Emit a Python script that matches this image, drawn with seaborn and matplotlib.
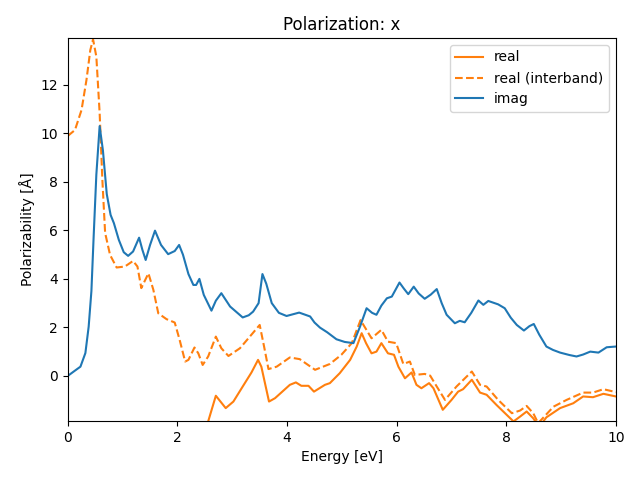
import matplotlib
matplotlib.use('Agg')
import matplotlib.pyplot as plt
import seaborn as sns

# values
imag_x = [0, 0.12, 0.23, 0.32, 0.38, 0.43, 0.47, 0.52, 0.58, 0.64, 0.71, 0.78, 0.84, 0.93, 1.02,
          1.10, 1.19, 1.30, 1.36, 1.42, 1.50, 1.59, 1.70, 1.83, 1.95, 2.03, 2.10, 2.20, 2.29, 2.34,
          2.40, 2.48, 2.62, 2.70, 2.80, 2.96, 3.19, 3.30, 3.38, 3.48, 3.55, 3.62, 3.72, 3.85, 3.99,
          4.22, 4.42, 4.50, 4.60, 4.73, 4.90, 5.05, 5.21, 5.33, 5.45, 5.55, 5.63, 5.72, 5.82, 5.91,
          6.05, 6.13, 6.21, 6.31, 6.40, 6.51, 6.62, 6.73, 6.82, 6.91, 7.06, 7.15, 7.24, 7.36, 7.49,
          7.58, 7.67, 7.85, 7.97, 8.08, 8.19, 8.32, 8.42, 8.50, 8.60, 8.73, 8.85, 8.98, 9.15, 9.28,
          9.40, 9.53, 9.68, 9.83, 10.0]
imag_y = [0.0, 0.2, 0.38, 0.94, 2.03, 3.5, 5.7, 8.3, 10.3, 9.3, 7.5, 6.64, 6.3, 5.61, 5.1,
          4.95, 5.13, 5.70, 5.2, 4.78, 5.4, 5.99, 5.4, 5.02, 5.15, 5.40, 5.0, 4.2, 3.75, 3.75,
          4.0, 3.34, 2.69, 3.1, 3.41, 2.86, 2.41, 2.5, 2.65, 3.0, 4.2, 3.8, 3.0, 2.6, 2.47,
          2.61, 2.45, 2.2, 1.99, 1.80, 1.51, 1.4, 1.35, 2.03, 2.79, 2.6, 2.52, 2.9, 3.20, 3.27,
          3.85, 3.6, 3.37, 3.68, 3.4, 3.18, 3.35, 3.58, 3.0, 2.52, 2.17, 2.27, 2.21, 2.6, 3.11,
          2.93, 3.09, 2.95, 2.79, 2.4, 2.10, 1.87, 2.05, 2.14, 1.7, 1.21, 1.07, 0.96, 0.86, 0.80,
          0.88, 1.0, 0.96, 1.18, 1.21]

inter_x = [0, 0.13, 0.25, 0.34, 0.41, 0.46, 0.52, 0.58, 0.63, 0.68, 0.77, 0.89, 1.04, 1.19, 1.27,
           1.34, 1.47, 1.56, 1.65, 1.80, 1.95, 2.04, 2.14, 2.20, 2.31, 2.38, 2.46, 2.56, 2.70, 2.80,
           2.93, 3.14, 3.32, 3.50, 3.58, 3.66, 3.81, 4.05, 4.23, 4.51, 4.78, 4.99, 5.18, 5.34, 5.54,
           5.72, 5.84, 5.99, 6.12, 6.24, 6.33, 6.51, 6.61, 6.73, 6.88, 7.09, 7.37, 7.52, 7.64, 7.85,
           8.10, 8.25, 8.37, 8.49, 8.58, 8.86, 9.10, 9.40, 9.58, 9.77, 10.0]
inter_y = [9.90, 10.14, 10.97, 12.21, 13.44, 13.88, 13.17, 10.85, 8.08, 5.9, 4.99, 4.47, 4.51, 4.74, 4.51,
           3.62, 4.23, 3.55, 2.58, 2.34, 2.20, 1.48, 0.59, 0.66, 1.17, 0.93, 0.45, 0.80, 1.62, 1.14,
           0.82, 1.14, 1.62, 2.10, 1.21, 0.28, 0.38, 0.76, 0.69, 0.25, 0.49, 0.87, 1.35, 2.3, 1.55,
           1.90, 1.41, 1.35, 0.49, 0.59, 0.04, 0.08, 0.01, -0.44, -0.99, -0.44, 0.18, -0.37, -0.44, -0.99,
           -1.54, -1.43, -1.24, -1.54, -1.95, -1.27, -0.99, -0.69, -0.69, -0.55, -0.67]

real_x = [2.3, 2.45, 2.56, 2.70, 2.88, 3.02, 3.19, 3.35, 3.47, 3.53, 3.67, 3.78, 4.05, 4.16, 4.26,
          4.39, 4.49, 4.69, 4.78, 4.96, 5.15, 5.27, 5.36, 5.44, 5.54, 5.63, 5.72, 5.84, 5.95, 6.03,
          6.15, 6.27, 6.36, 6.45, 6.59, 6.67, 6.84, 7.00, 7.12, 7.21, 7.37, 7.52, 7.64, 7.82, 8.13,
          8.25, 8.37, 8.49, 8.60, 8.73, 8.98, 9.22, 9.40, 9.58, 9.77, 10.0]
real_y = [-3.6, -2.6, -1.88, -0.82, -1.33, -1.06, -0.44, 0.14, 0.66, 0.38, -1.06, -0.92, -0.37, -0.27, -0.41,
          -0.41, -0.65, -0.37, -0.30, 0.11, 0.66, 1.21, 1.76, 1.35, 0.93, 1.0, 1.35, 0.93, 0.87, 0.38,
          -0.10, 0.14, -0.37, -0.51, -0.30, -0.51, -1.40, -0.99, -0.65, -0.55, -0.16, -0.69, -0.78, -1.20, -1.88,
          -1.68, -1.47, -1.75, -2.1, -1.71, -1.33, -1.13, -0.85, -0.88, -0.74, -0.85]

fig, ax = plt.subplots(figsize=(6.4, 4.8), dpi=100)

sns.lineplot(x=real_x, y=real_y, ax=ax, color='C1', label='real')
sns.lineplot(x=inter_x, y=inter_y, ax=ax, color='C1', linestyle='--', label='real (interband)')
sns.lineplot(x=imag_x, y=imag_y, ax=ax, color='C0', label='imag')

ax.set_xlim(0, 10)
ax.set_ylim(-1.86, 13.94)
ax.set_xlabel('Energy [eV]')
ax.set_ylabel('Polarizability [Å]')
ax.set_title('Polarization: x')
ax.legend(loc='upper right')

fig.subplots_adjust(left=0.106, right=0.9625, top=0.921, bottom=0.123)
fig.savefig('out.png')
plt.close(fig)
